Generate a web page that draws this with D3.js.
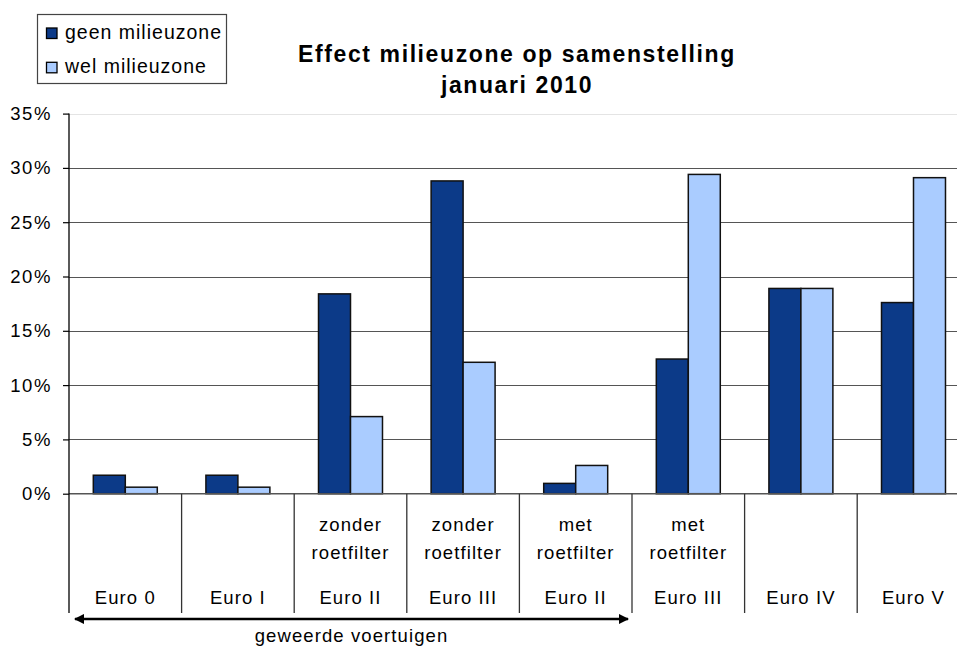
<!DOCTYPE html>
<html>
<head>
<meta charset="utf-8">
<script src="https://cdn.jsdelivr.net/npm/d3@7"></script>
<style>
    body { margin: 0; background: #fff; }
    text { font-family: "Liberation Sans", Arial, sans-serif; fill: #000; }
</style>
</head>
<body>
<svg></svg>
<script>
const width = 957;
const height = 647;

// data (percent of vehicles)
const euroLabels = ['Euro 0', 'Euro I', 'Euro II', 'Euro III', 'Euro II', 'Euro III', 'Euro IV', 'Euro V'];
const filterLabels = [[], [], ['zonder', 'roetfilter'], ['zonder', 'roetfilter'], ['met', 'roetfilter'], ['met', 'roetfilter'], [], []];
const seriesNames = ['geen milieuzone', 'wel milieuzone'];
const geenMilieuzone = [1.7, 1.7, 18.4, 28.8, 0.95, 12.4, 18.9, 17.6];
const welMilieuzone = [0.6, 0.6, 7.1, 12.1, 2.6, 29.4, 18.9, 29.1];
const yTicks = [0, 5, 10, 15, 20, 25, 30, 35];
const colors = ['#0c3a88', '#aaccff'];

const svg = d3.select('svg')
    .attr('width', width)
    .attr('height', height);

const left = 69;
const step = 112.6;
const labelSize = '18.5px';
const labelSpacing = '1.1px';

const x = d3.scaleBand()
    .domain(d3.range(euroLabels.length))
    .range([left, left + step * euroLabels.length]);

const x1 = d3.scaleBand()
    .domain([0, 1])
    .range([0, x.bandwidth()])
    .paddingOuter(0.76);

const y = d3.scaleLinear()
    .domain([0, 35])
    .range([493.7, 113.6]);

// gridlines
svg.append('g')
    .selectAll('line')
    .data(yTicks.filter(d => d > 0))
    .enter()
    .append('line')
    .attr('x1', left)
    .attr('x2', width)
    .attr('y1', d => Math.round(y(d)) + 0.5)
    .attr('y2', d => Math.round(y(d)) + 0.5)
    .attr('stroke', d => d == 35 ? '#e4e4e4' : '#555')
    .attr('stroke-width', 1.2);

// bars
const rows = euroLabels.map((d, i) => [geenMilieuzone[i], welMilieuzone[i]]);
const groups = svg.append('g')
    .selectAll('g')
    .data(rows)
    .enter()
    .append('g')
    .attr('transform', (d, i) => `translate(${x(i)},0)`);

groups.selectAll('rect')
    .data(d => d)
    .enter()
    .append('rect')
    .attr('x', (d, j) => x1(j))
    .attr('width', x1.bandwidth())
    .attr('y', d => y(d))
    .attr('height', d => y(0) - y(d))
    .attr('fill', (d, j) => colors[j])
    .attr('stroke', '#111')
    .attr('stroke-width', 1.5);

// baseline
svg.append('line')
    .attr('x1', left)
    .attr('x2', width)
    .attr('y1', y(0))
    .attr('y2', y(0))
    .attr('stroke', '#555')
    .attr('stroke-width', 1.5);

// y axis
const yAxis = svg.append('g')
    .attr('transform', `translate(${left},0)`)
    .call(d3.axisLeft(y).tickValues(yTicks).tickSize(6).tickPadding(11).tickFormat(d => d + '%'));
yAxis.select('.domain').remove();
yAxis.selectAll('.tick line').attr('stroke', '#000').attr('stroke-width', 1.2);
yAxis.selectAll('text')
    .attr('fill', '#000')
    .style('font-size', labelSize)
    .style('letter-spacing', '1.6px')
    .style('font-family', '"Liberation Sans", Arial, sans-serif');

svg.append('line')
    .attr('x1', left)
    .attr('x2', left)
    .attr('y1', y(35))
    .attr('y2', 613)
    .attr('stroke', '#000')
    .attr('stroke-width', 1.3);

// category separators
svg.append('g')
    .selectAll('line')
    .data(d3.range(1, euroLabels.length + 1))
    .enter()
    .append('line')
    .attr('x1', i => left + step * i)
    .attr('x2', i => left + step * i)
    .attr('y1', y(0))
    .attr('y2', 613)
    .attr('stroke', '#333')
    .attr('stroke-width', 1.3);

// category labels
const labels = svg.append('g');
euroLabels.forEach((label, i) => {
    const cx = x(i) + x.bandwidth() / 2;
    labels.append('text')
        .attr('x', cx)
        .attr('y', 604)
        .attr('text-anchor', 'middle')
        .style('font-size', labelSize)
        .style('letter-spacing', labelSpacing)
        .text(label);
    filterLabels[i].forEach((line, k) => {
        labels.append('text')
            .attr('x', cx)
            .attr('y', 531 + k * 28)
            .attr('text-anchor', 'middle')
            .style('font-size', labelSize)
            .style('letter-spacing', labelSpacing)
            .text(line);
    });
});

// arrow for banned vehicles
const defs = svg.append('defs');
defs.append('marker')
    .attr('id', 'head')
    .attr('viewBox', '0 0 10 10')
    .attr('refX', 9)
    .attr('refY', 5)
    .attr('markerWidth', 4)
    .attr('markerHeight', 4)
    .attr('markerUnits', 'strokeWidth')
    .attr('orient', 'auto-start-reverse')
    .append('path')
    .attr('d', 'M0,0 L10,5 L0,10 Z')
    .attr('fill', '#000');

const arrowStart = x(0) + 6;
const arrowEnd = x(4) + x.bandwidth() - 4;
svg.append('line')
    .attr('x1', arrowStart)
    .attr('x2', arrowEnd)
    .attr('y1', 619)
    .attr('y2', 619)
    .attr('stroke', '#000')
    .attr('stroke-width', 2.6)
    .attr('marker-start', 'url(#head)')
    .attr('marker-end', 'url(#head)');

svg.append('text')
    .attr('x', (arrowStart + arrowEnd) / 2)
    .attr('y', 642)
    .attr('text-anchor', 'middle')
    .style('font-size', labelSize)
    .style('letter-spacing', labelSpacing)
    .text('geweerde voertuigen');

// title
const title = svg.append('text')
    .attr('text-anchor', 'middle')
    .style('font-size', '23px')
    .style('font-weight', 'bold')
    .style('letter-spacing', '1.6px');
title.append('tspan').attr('x', 517).attr('y', 62).text('Effect milieuzone op samenstelling');
title.append('tspan').attr('x', 517).attr('y', 93).text('januari 2010');

// legend
const legend = svg.append('g');
legend.append('rect')
    .attr('x', 37.5)
    .attr('y', 14.5)
    .attr('width', 189)
    .attr('height', 69)
    .attr('fill', '#fff')
    .attr('stroke', '#444')
    .attr('stroke-width', 1.2);

seriesNames.forEach((name, i) => {
    legend.append('rect')
        .attr('x', 46.5)
        .attr('y', 28 + i * 34.3)
        .attr('width', 10.5)
        .attr('height', 10.5)
        .attr('fill', colors[i])
        .attr('stroke', '#000')
        .attr('stroke-width', 1.3);
    legend.append('text')
        .attr('x', 65)
        .attr('y', 39 + i * 34.3)
        .style('font-size', '19.5px')
        .style('letter-spacing', '1px')
        .text(name);
});
</script>
</body>
</html>
